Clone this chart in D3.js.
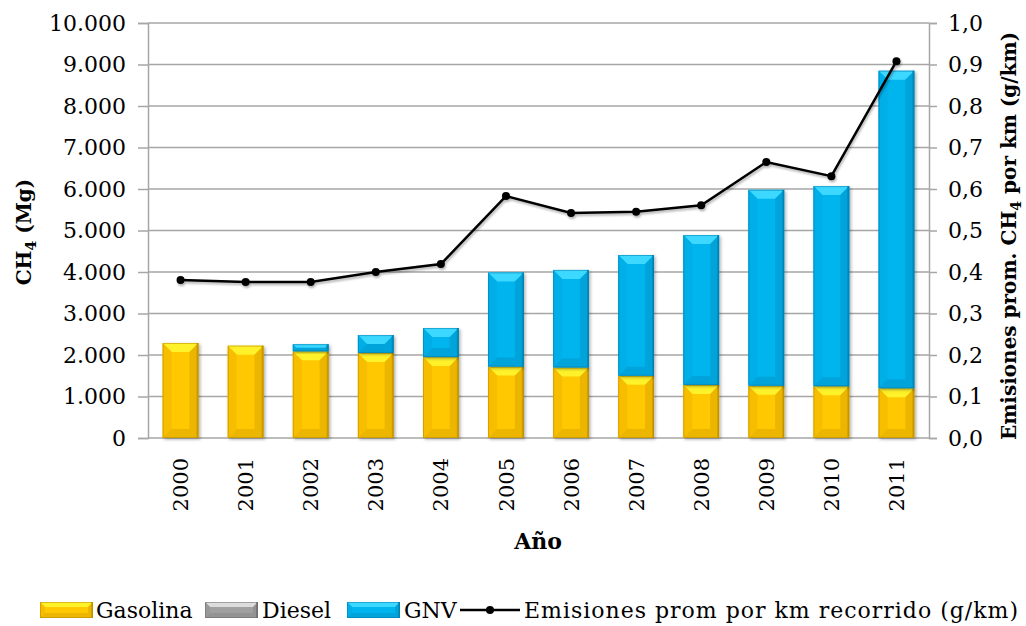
<!DOCTYPE html>
<html><head><meta charset="utf-8">
<script src="https://cdn.jsdelivr.net/npm/d3@7"></script>
<style>
body{margin:0;background:#fff;}
svg{display:block;font-family:"DejaVu Serif","Liberation Serif",serif;}
</style></head>
<body><svg id="c" width="1026" height="626"></svg>
<script>
const years = ["2000","2001","2002","2003","2004","2005","2006","2007","2008","2009","2010","2011"];
const gasolina = [2290,2225,2090,2050,1950,1720,1700,1500,1280,1260,1250,1200];
const diesel =   [0,0,0,0,0,0,0,0,0,0,0,0];
const gnv =      [0,0,170,430,700,2270,2350,2910,3610,4720,4820,7650];
const emisiones = [0.381,0.376,0.376,0.400,0.419,0.583,0.542,0.545,0.561,0.665,0.631,0.908];
const leftTicks = [0,1000,2000,3000,4000,5000,6000,7000,8000,9000,10000];
const rightTicks = [0,0.1,0.2,0.3,0.4,0.5,0.6,0.7,0.8,0.9,1.0];
const seriesNames = ["Gasolina","Diesel","GNV"];

const svg = d3.select("#c");
const L=148, R=929, T=23, B=438;
const x = d3.scaleBand().domain(years).range([L,R]).paddingInner(0.45).paddingOuter(0.225);
const y = d3.scaleLinear().domain([0,10000]).range([B,T]);
const y2 = d3.scaleLinear().domain([0,1]).range([B,T]);

const defs = svg.append("defs");
const f = defs.append("filter").attr("id","sh").attr("x","-20%").attr("y","-20%").attr("width","150%").attr("height","150%");
f.append("feDropShadow").attr("dx",1.5).attr("dy",1.5).attr("stdDeviation",1.5).attr("flood-color","#000").attr("flood-opacity",0.3);
const lf = defs.append("filter").attr("id","lsh").attr("x","-5%").attr("y","-5%").attr("width","110%").attr("height","120%");
lf.append("feDropShadow").attr("dx",1).attr("dy",2).attr("stdDeviation",1.2).attr("flood-color","#000").attr("flood-opacity",0.3);

// grid
const grid = svg.append("g");
grid.selectAll("line").data(leftTicks.slice(1)).join("line")
  .attr("x1",L).attr("x2",R).attr("y1",d=>y(d)).attr("y2",d=>y(d))
  .attr("stroke","#a6a6a6").attr("stroke-width",1.5);

// axes
const fmt = d => d3.format(",")(d).replace(/,/g,".");
const ga = svg.append("g").attr("transform",`translate(${L},0)`)
  .call(d3.axisLeft(y).tickValues(leftTicks).tickFormat(fmt).tickSize(10).tickPadding(12));
const gb = svg.append("g").attr("transform",`translate(${R},0)`)
  .call(d3.axisRight(y2).tickValues(rightTicks).tickFormat(d=>d3.format(".1f")(d).replace(".",",")).tickSize(8).tickPadding(11));
const gx = svg.append("g").attr("transform",`translate(0,${B})`)
  .call(d3.axisBottom(x).tickSize(0).tickPadding(0));
[ga,gb,gx].forEach(g=>{
  g.selectAll("path").attr("stroke","#a6a6a6").attr("stroke-width",1.5);
  g.selectAll("line").attr("stroke","#a6a6a6").attr("stroke-width",1.5);
  g.selectAll("text").attr("fill","#000").style("font-size","22px").style("font-family","DejaVu Serif");
});
gx.select("path").attr("d",`M${L},0H${R}`);
gx.selectAll("text").attr("transform","rotate(-90)").attr("text-anchor","end")
  .attr("x",-20).attr("y",0).attr("dy","0.36em").style("font-size","21px");

// bevel bars
const pal = {
  Gasolina:{main:"#FFC800",top:"#FFF22A",side:"#F7BE00",bot:"#E0AA00",right:"#C99A00",edge:"#B08600"},
  Diesel:{main:"#A0A0A0",top:"#DCDCDC",side:"#999",bot:"#8A8A8A",right:"#707070",edge:"#666"},
  GNV:{main:"#00B4EE",top:"#3CD8FF",side:"#00AEE8",bot:"#0099CF",right:"#0088B8",edge:"#0078A8"}
};
const stack = years.map((yr,i)=>{
  let base=0; const segs=[];
  [gasolina[i],diesel[i],gnv[i]].forEach((v,k)=>{ if(v>0) segs.push({yr,name:seriesNames[k],y0:base,y1:base+v}); base+=v; });
  return segs;
}).flat();

function bevel(g, x0, y0, w, h, c, bv){
  const b = Math.min(bv, h/2, w/2);
  g.append("rect").attr("x",x0).attr("y",y0).attr("width",w).attr("height",h).attr("fill",c.main);
  g.append("path").attr("d",`M${x0},${y0}H${x0+w}L${x0+w-b},${y0+b}H${x0+b}Z`).attr("fill",c.top);
  g.append("path").attr("d",`M${x0},${y0}L${x0+b},${y0+b}V${y0+h-b}L${x0},${y0+h}Z`).attr("fill",c.side);
  g.append("path").attr("d",`M${x0+w},${y0}L${x0+w-b},${y0+b}V${y0+h-b}L${x0+w},${y0+h}Z`).attr("fill",c.bot).attr("opacity",0.6);
  g.append("path").attr("d",`M${x0},${y0+h}L${x0+b},${y0+h-b}H${x0+w-b}L${x0+w},${y0+h}Z`).attr("fill",c.bot).attr("opacity",0.6);
  g.append("rect").attr("x",x0+w-2).attr("y",y0).attr("width",2).attr("height",h).attr("fill",c.right).attr("opacity",0.8);
  g.append("rect").attr("x",x0+0.5).attr("y",y0+0.5).attr("width",w-1).attr("height",Math.max(h-1,0)).attr("fill","none").attr("stroke",c.edge).attr("stroke-width",1).attr("opacity",0.5);
}
const bars = svg.append("g");
stack.forEach(s=>{
  const g = bars.append("g").attr("filter","url(#sh)");
  bevel(g, x(s.yr), y(s.y1), x.bandwidth(), y(s.y0)-y(s.y1), pal[s.name], 9);
});

// line
const line = d3.line().x((d,i)=>x(years[i])+x.bandwidth()/2).y(d=>y2(d));
const lg = svg.append("g").attr("filter","url(#lsh)");
lg.append("path").datum(emisiones).attr("d",line).attr("fill","none").attr("stroke","#000").attr("stroke-width",2.5);
lg.selectAll("circle").data(emisiones).join("circle")
  .attr("cx",(d,i)=>x(years[i])+x.bandwidth()/2).attr("cy",d=>y2(d)).attr("r",4).attr("fill","#000");

// axis titles
const lt = svg.append("text").attr("transform","translate(31,232) rotate(-90)").attr("text-anchor","middle")
  .style("font-size","20px").style("font-weight","bold");
lt.append("tspan").text("CH");
lt.append("tspan").text("4").attr("dy",5).style("font-size","14px");
lt.append("tspan").text(" (Mg)").attr("dy",-5);
const rt = svg.append("text").attr("transform","translate(1016,236) rotate(-90)").attr("text-anchor","middle")
  .style("font-size","20px").style("font-weight","bold");
rt.append("tspan").text("Emisiones prom. CH");
rt.append("tspan").text("4").attr("dy",5).style("font-size","14px");
rt.append("tspan").text(" por km (g/km)").attr("dy",-5);
svg.append("text").attr("x",538).attr("y",549).attr("text-anchor","middle")
  .style("font-size","22px").style("font-weight","bold").text("Año");

// legend
const leg = svg.append("g");
const items = [
  {name:"Gasolina",type:"bar",sx:40,tx:96,len:null},
  {name:"Diesel",type:"bar",sx:205,tx:262,len:null},
  {name:"GNV",type:"bar",sx:347,tx:404,len:null},
  {name:"Emisiones prom por km recorrido (g/km)",type:"line",sx:460,tx:524,len:494}
];
items.forEach(it=>{
  if(it.type==="bar"){
    const g = leg.append("g");
    bevel(g, it.sx, 602, 53, 16, pal[it.name], 5);
  } else {
    leg.append("line").attr("x1",it.sx).attr("x2",it.sx+60).attr("y1",610).attr("y2",610).attr("stroke","#000").attr("stroke-width",2.5);
    leg.append("circle").attr("cx",it.sx+30).attr("cy",610).attr("r",4).attr("fill","#000");
  }
  const t = leg.append("text").attr("x",it.tx).attr("y",618).style("font-size","22px").text(it.name);
  if(it.len) t.attr("textLength",it.len).attr("lengthAdjust","spacing");
});
</script></body></html>
